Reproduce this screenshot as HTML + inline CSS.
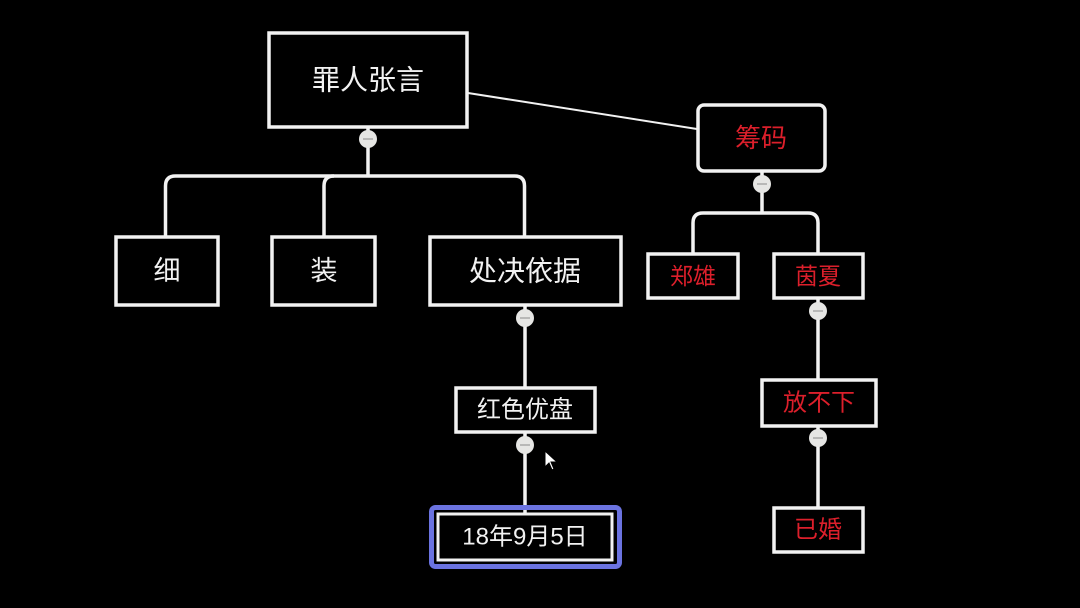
<!DOCTYPE html>
<html><head><meta charset="utf-8">
<style>
html,body{margin:0;padding:0;background:#000;}
svg{display:block;}
text{font-family:"Liberation Sans","Noto Sans CJK SC",sans-serif;text-anchor:middle;dominant-baseline:central;font-weight:400;}
</style></head>
<body>
<svg width="1080" height="608" viewBox="0 0 1080 608" xmlns="http://www.w3.org/2000/svg">
<rect width="1080" height="608" fill="#000"/>
<g fill="none" stroke="#f2f2f2" stroke-width="3.5">
  <line x1="468" y1="93" x2="697" y2="129" stroke-width="2"/>
  <line x1="368" y1="128" x2="368" y2="176"/>
  <path d="M165.5 236 V186 Q165.5 176 175.5 176 H514.5 Q524.5 176 524.5 186 V236"/>
  <path d="M324 236 V186 Q324 176 334 176"/>
  <line x1="525" y1="306" x2="525" y2="387"/>
  <line x1="525" y1="433" x2="525" y2="513"/>
  <line x1="762" y1="172" x2="762" y2="213"/>
  <path d="M693 253 V223 Q693 213 703 213 H808 Q818 213 818 223 V253"/>
  <line x1="818" y1="299" x2="818" y2="379"/>
  <line x1="818" y1="427" x2="818" y2="507"/>
</g>
<g fill="#000" stroke="#f2f2f2" stroke-width="3.5">
  <rect x="269" y="33" width="198" height="94"/>
  <rect x="116" y="237" width="102" height="68"/>
  <rect x="272" y="237" width="103" height="68"/>
  <rect x="430" y="237" width="191" height="68"/>
  <rect x="456" y="388" width="139" height="44"/>
  <rect x="698" y="105" width="127" height="66" rx="6"/>
  <rect x="648" y="254" width="90" height="44"/>
  <rect x="774" y="254" width="89" height="44"/>
  <rect x="762" y="380" width="114" height="46"/>
  <rect x="774" y="508" width="89" height="44"/>
</g>
<rect x="431.5" y="507.5" width="188" height="59" rx="4" fill="none" stroke="#6b73e0" stroke-width="5"/>
<rect x="438" y="514" width="174" height="46" fill="#000" stroke="#f2f2f2" stroke-width="3"/>
<g>
  <g transform="translate(368,139)"><circle r="9" fill="#e6e6e4"/><line x1="-5" y1="0" x2="5" y2="0" stroke="#999" stroke-width="1.2"/></g>
  <g transform="translate(525,318)"><circle r="9" fill="#e6e6e4"/><line x1="-5" y1="0" x2="5" y2="0" stroke="#999" stroke-width="1.2"/></g>
  <g transform="translate(525,445)"><circle r="9" fill="#e6e6e4"/><line x1="-5" y1="0" x2="5" y2="0" stroke="#999" stroke-width="1.2"/></g>
  <g transform="translate(762,184)"><circle r="9" fill="#e6e6e4"/><line x1="-5" y1="0" x2="5" y2="0" stroke="#999" stroke-width="1.2"/></g>
  <g transform="translate(818,311)"><circle r="9" fill="#e6e6e4"/><line x1="-5" y1="0" x2="5" y2="0" stroke="#999" stroke-width="1.2"/></g>
  <g transform="translate(818,438)"><circle r="9" fill="#e6e6e4"/><line x1="-5" y1="0" x2="5" y2="0" stroke="#999" stroke-width="1.2"/></g>
</g>
<g fill="#f2f2f2">
  <text x="368" y="80" font-size="28">罪人张言</text>
  <text x="167" y="271" font-size="27">细</text>
  <text x="324" y="271" font-size="27">装</text>
  <text x="525" y="271" font-size="28">处决依据</text>
  <text x="525" y="410" font-size="24">红色优盘</text>
  <text x="525" y="537" font-size="24">18年9月5日</text>
</g>
<g fill="#dc1f2b">
  <text x="761" y="138" font-size="26">筹码</text>
  <text x="693" y="276" font-size="23">郑雄</text>
  <text x="818" y="276" font-size="23">茵夏</text>
  <text x="819" y="403" font-size="24">放不下</text>
  <text x="818" y="530" font-size="24">已婚</text>
</g>
<path d="M545 451 L545 467 L549 463 L552 470 L554 469 L551 462 L557 462 Z" fill="#fff" stroke="#000" stroke-width="1"/>
</svg>
</body></html>
